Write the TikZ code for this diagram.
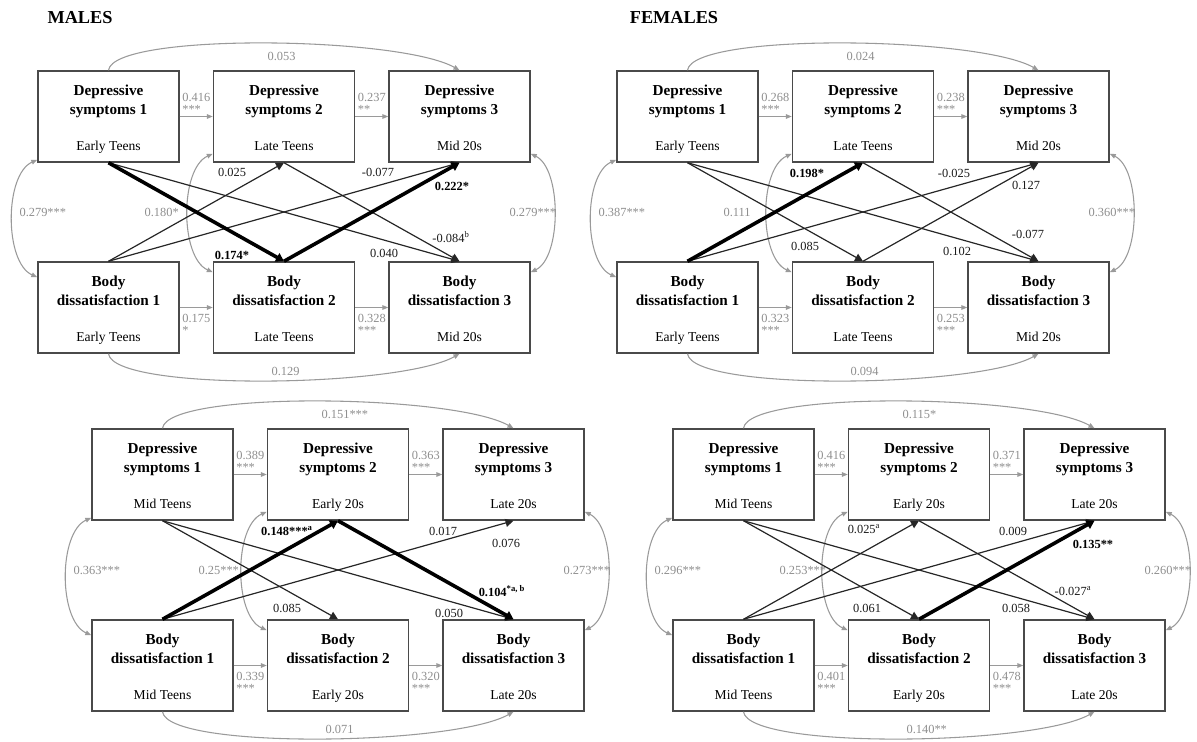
\documentclass[tikz,border=0pt]{standalone}
\usepackage{fontspec}
\setmainfont{Liberation Serif}
\usetikzlibrary{arrows.meta,positioning}

\definecolor{framegray}{HTML}{4A4A4A}
\definecolor{pathgray}{HTML}{9A9A9A}
\definecolor{numgray}{HTML}{8E8E8E}

\tikzset{
  var/.style={draw=framegray,line width=1.1pt,minimum width=105.75pt,minimum height=68.25pt,
    inner sep=0pt,align=center,font=\fontsize{11.4}{14.25}\selectfont},
  autoreg/.style={draw=pathgray,line width=0.8pt,-{Triangle[length=4.5pt,width=3.5pt]}},
  covline/.style={draw=pathgray,line width=0.8pt,
    {Triangle[length=4.5pt,width=3.5pt]}-{Triangle[length=4.5pt,width=3.5pt]}},
  crossln/.style={draw=black!85,line width=0.9pt,-{Triangle[length=6pt,width=6pt]}},
  crosssig/.style={draw=black,line width=2.7pt,-{Triangle[length=6pt,width=7pt]}},
  numlab/.style={text=numgray,font=\fontsize{9.3}{9}\selectfont,align=left,inner sep=2pt},
  glab/.style={text=numgray,font=\fontsize{9.3}{11}\selectfont,inner sep=1pt},
  blab/.style={text=black!90,font=\fontsize{9.3}{11}\selectfont,inner sep=1pt},
  slab/.style={text=black,font=\fontsize{9.3}{11}\selectfont\bfseries,inner sep=1pt},
  sextitle/.style={font=\fontsize{13.7}{16}\selectfont\bfseries,inner sep=0pt}
}

\newcommand{\agefont}{\fontsize{10.2}{12}\selectfont}
\newcommand{\dstitle}[1]{\rule{0pt}{14pt}\textbf{Depressive}\\\textbf{symptoms #1}}
\newcommand{\bdtitle}[1]{\rule{0pt}{14pt}\textbf{Body}\\\textbf{dissatisfaction #1}}

% six boxes of one panel: prefix, three ages
\newcommand{\varboxes}[4]{%
  \node[var] (#1d1) at (70.5,45.5) {\dstitle{1}\\[12.75pt]{\agefont #2\strut}};
  \node[var] (#1d2) at (246,45.5) {\dstitle{2}\\[12.75pt]{\agefont #3\strut}};
  \node[var] (#1d3) at (421.5,45.5) {\dstitle{3}\\[12.75pt]{\agefont #4\strut}};
  \node[var] (#1b1) at (70.5,236.5) {\bdtitle{1}\\[12.75pt]{\agefont #2\strut}};
  \node[var] (#1b2) at (246,236.5) {\bdtitle{2}\\[12.75pt]{\agefont #3\strut}};
  \node[var] (#1b3) at (421.5,236.5) {\bdtitle{3}\\[12.75pt]{\agefont #4\strut}};
}

% autoregressive paths
\newcommand{\stability}[7]{%
  \draw[autoreg] (#1d1) -- node[numlab,above] (#1s1) {#2} (#1d2);
  \draw[autoreg] (#1d2) -- node[numlab,above] (#1s2) {#3} (#1d3);
  \draw[autoreg] (#1b1) -- node[numlab,below=3pt] (#1s3) {#4} (#1b2);
  \draw[autoreg] (#1b2) -- node[numlab,below=3pt] (#1s4) {#5} (#1b3);
  \draw[autoreg] (#1d1.north) .. controls +(5,-38) and +(-60,-34) .. (#1d3.north);
  \draw[autoreg] (#1b1.south) .. controls +(5,38) and +(-60,34) .. (#1b3.south);
  \node[glab,anchor=west] (#1s5) at (228,-15) {#6};
  \node[glab,anchor=west] (#1s6) at (232,300) {#7};
}

% within-time covariances
\newcommand{\covars}[4]{%
  \draw[covline] ([yshift=2.25pt]#1d1.south west) .. controls +(-33,15) and +(-33,-15) .. ([yshift=-12pt]#1b1.north west);
  \draw[covline] ([yshift=6.75pt]#1d2.south west) .. controls +(-33,15) and +(-33,-15) .. ([yshift=-8.25pt]#1b2.north west);
  \draw[covline] ([yshift=6.75pt]#1d3.south east) .. controls +(31,15) and +(31,-15) .. ([yshift=-8.25pt]#1b3.north east);
  \node[glab,anchor=west] (#1v1) at (-20,141) {#2};
  \node[glab,anchor=west] (#1v2) at (105,141) {#3};
  \node[glab,anchor=west] (#1v3) at (470,141) {#4};
}

\begin{document}
\begin{tikzpicture}[x=0.75pt,y=-0.75pt]
  \useasboundingbox (0,0) rectangle (1197,742);
  \node[sextitle] (males) at (80,18) {MALES};
  \node[sextitle] (females) at (674,18) {FEMALES};

  % males, teens to mid 20s
  \begin{scope}[shift={(38,71)}]
    \varboxes{m1}{Early Teens}{Late Teens}{Mid 20s}
    \stability{m1}{0.416\\***}{0.237\\**}{0.175\\*}{0.328\\***}{0.053}{0.129}
    \covars{m1}{0.279***}{0.180*}{0.279***}
    \draw[crossln] (m1d1.south) -- (m1b3.north);
    \draw[crossln] (m1b1.north) -- (m1d2.south);
    \draw[crossln] (m1b1.north) -- (m1d3.south);
    \draw[crossln] (m1d2.south) -- (m1b3.north);
    \draw[crosssig] (m1d1.south) -- (m1b2.north);
    \draw[crosssig] (m1b2.north) -- (m1d3.south);
    \node[slab] (m1c1) at (194,184) {0.174*};
    \node[blab] (m1c2) at (346,182) {0.040};
    \node[blab] (m1c3) at (194,101) {0.025};
    \node[blab] (m1c4) at (340,101) {-0.077};
    \node[blab] (m1c5) at (413,166) {-0.084\textsuperscript{b}};
    \node[slab] (m1c6) at (414,115) {0.222*};
  \end{scope}

  % females, teens to mid 20s
  \begin{scope}[shift={(617,71)}]
    \varboxes{f1}{Early Teens}{Late Teens}{Mid 20s}
    \stability{f1}{0.268\\***}{0.238\\***}{0.323\\***}{0.253\\***}{0.024}{0.094}
    \covars{f1}{0.387***}{0.111}{0.360***}
    \draw[crossln] (f1d1.south) -- (f1b2.north);
    \draw[crossln] (f1d1.south) -- (f1b3.north);
    \draw[crossln] (f1b1.north) -- (f1d3.south);
    \draw[crossln] (f1b2.north) -- (f1d3.south);
    \draw[crossln] (f1d2.south) -- (f1b3.north);
    \draw[crosssig] (f1b1.north) -- (f1d2.south);
    \node[blab] (f1c1) at (188,175) {0.085};
    \node[blab] (f1c2) at (340,180) {0.102};
    \node[slab] (f1c3) at (190,102) {0.198*};
    \node[blab] (f1c4) at (337,102) {-0.025};
    \node[blab] (f1c5) at (409,114) {0.127};
    \node[blab] (f1c6) at (411,163) {-0.077};
  \end{scope}

  % males, mid teens to late 20s
  \begin{scope}[shift={(92,429)}]
    \varboxes{m2}{Mid Teens}{Early 20s}{Late 20s}
    \stability{m2}{0.389\\***}{0.363\\***}{0.339\\***}{0.320\\***}{0.151***}{0.071}
    \covars{m2}{0.363***}{0.25***}{0.273***}
    \draw[crossln] (m2d1.south) -- (m2b2.north);
    \draw[crossln] (m2d1.south) -- (m2b3.north);
    \draw[crossln] (m2b1.north) -- (m2d3.south);
    \draw[crosssig] (m2b1.north) -- (m2d2.south);
    \draw[crosssig] (m2d2.south) -- (m2b3.north);
    \node[slab] (m2c1) at (195,102) {0.148***\textsuperscript{a}};
    \node[slab] (m2c2) at (410,162) {0.104\textsuperscript{*a, b}};
    \node[blab] (m2c3) at (195,179) {0.085};
    \node[blab] (m2c4) at (357,184) {0.050};
    \node[blab] (m2c5) at (351,102) {0.017};
    \node[blab] (m2c6) at (414,114) {0.076};
  \end{scope}

  % females, mid teens to late 20s
  \begin{scope}[shift={(673,429)}]
    \varboxes{f2}{Mid Teens}{Early 20s}{Late 20s}
    \stability{f2}{0.416\\***}{0.371\\***}{0.401\\***}{0.478\\***}{0.115*}{0.140**}
    \covars{f2}{0.296***}{0.253***}{0.260***}
    \draw[crossln] (f2b1.north) -- (f2d2.south);
    \draw[crossln] (f2b1.north) -- (f2d3.south);
    \draw[crossln] (f2d1.south) -- (f2b2.north);
    \draw[crossln] (f2d1.south) -- (f2b3.north);
    \draw[crossln] (f2d2.south) -- (f2b3.north);
    \draw[crosssig] (f2b2.north) -- (f2d3.south);
    \node[blab] (f2c1) at (191,100) {0.025\textsuperscript{a}};
    \node[blab] (f2c2) at (340,102) {0.009};
    \node[blab] (f2c3) at (194,179) {0.061};
    \node[blab] (f2c4) at (343,179) {0.058};
    \node[blab] (f2c5) at (400,162) {-0.027\textsuperscript{a}};
    \node[slab] (f2c6) at (420,115) {0.135**};
  \end{scope}
\end{tikzpicture}
\end{document}
